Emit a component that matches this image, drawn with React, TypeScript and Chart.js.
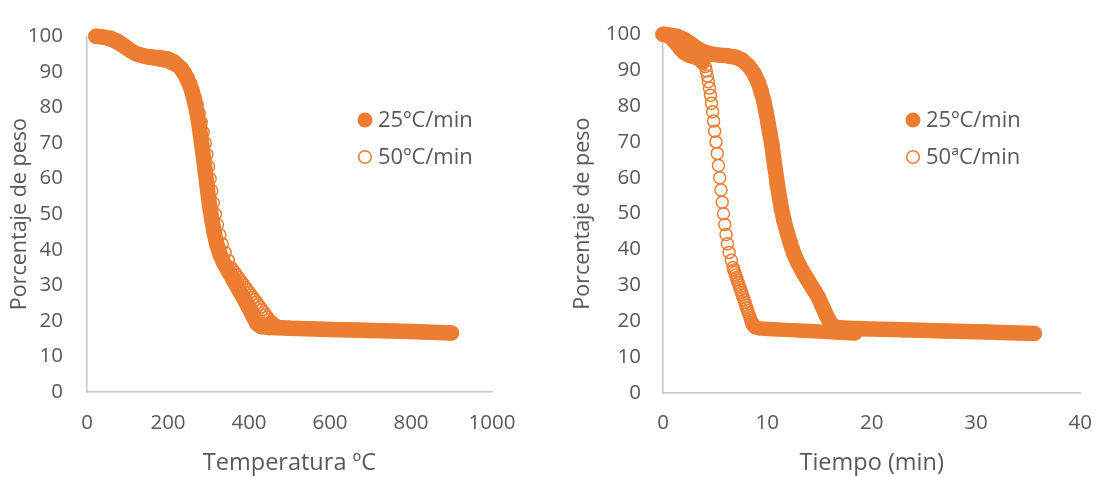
import React, { useEffect, useRef } from "react";
import { Chart, registerables } from "chart.js";

Chart.register(...registerables);

// Legend labels for each panel
const LABELS_TEMP = ["25ºC/min", "50ºC/min"];
const LABELS_TIME = ["25ºC/min", "50ªC/min"];

// Axis titles
const Y_TITLE = "Porcentaje de peso";
const X_TITLE_TEMP = "Temperatura ºC";
const X_TITLE_TIME = "Tiempo (min)";

// Axis ranges [min, max, step]
const Y_RANGE = [0, 100, 10];
const TEMP_RANGE = [0, 1000, 200];
const TIME_RANGE = [0, 40, 10];

// Run at 25 ºC/min: weight (%), temperature (ºC), time (min)
const W25 = [
  100, 99.8, 99.4, 98.6, 97.5, 96.2, 95.2, 94.5, 94.2, 94.0, 93.6, 92.8, 91.2,
  89.2, 86.8, 84.2, 81.6, 78.8, 75.6, 72.4, 69.0, 65.6, 62.0, 58.4, 54.8, 51.4,
  48.0, 44.8, 41.8, 38.8, 36.2, 33.8, 31.4, 29.0, 26.6, 24.0, 21.4, 19.2, 18.4,
  18.1, 17.9, 17.6, 17.3, 17.0, 16.6,
];
const T25 = [
  22, 40, 60, 75, 90, 105, 120, 140, 160, 180, 200, 215, 230, 242, 252, 260,
  266, 271, 276, 280, 284, 288, 292, 296, 300, 304, 309, 314, 320, 328, 338,
  350, 362, 374, 386, 398, 410, 420, 430, 450, 500, 600, 700, 800, 900,
];
const t25 = [
  0, 0.6, 1.4, 2.0, 2.6, 3.2, 3.8, 4.6, 5.4, 6.2, 7.0, 7.6, 8.2, 8.7, 9.1, 9.4,
  9.65, 9.85, 10.05, 10.25, 10.45, 10.6, 10.78, 10.95, 11.15, 11.35, 11.6,
  11.9, 12.2, 12.55, 12.95, 13.4, 13.9, 14.4, 14.9, 15.3, 15.7, 16.1, 16.5,
  17.2, 19.0, 23.0, 27.0, 31.0, 35.6,
];

// Run at 50 ºC/min: weight (%), temperature (ºC), time (min)
const W50 = [
  100, 99.6, 98.8, 97.5, 96.0, 94.8, 94.0, 93.6, 93.0, 92.0, 91.0, 89.8, 88.4,
  86.8, 85.0, 83.0, 80.8, 78.4, 75.8, 73.0, 70.0, 66.8, 63.4, 60.0, 56.6, 53.2,
  50.0, 47.0, 44.2, 41.6, 39.2, 37.0, 35.0, 34.3, 33.6, 32.9, 32.2, 31.5, 30.8,
  30.1, 29.4, 28.7, 28.0, 27.3, 26.6, 25.9, 25.2, 24.5, 23.8, 23.1, 22.4, 21.7,
  21.0, 20.3, 19.6, 18.9, 18.3, 18.0, 17.8, 17.6, 17.4, 17.2, 17.0, 16.8, 16.6,
];
const T50 = [
  25, 45, 65, 85, 105, 125, 150, 175, 200, 218, 236, 243, 250, 256, 262, 267,
  272, 277, 282, 287, 292, 296, 300, 304, 308, 312, 317, 322, 328, 334, 341,
  349, 356, 360, 365, 369, 374, 378, 383, 387, 392, 396, 401, 405, 410, 414,
  419, 423, 428, 432, 437, 441, 446, 450, 455, 462, 472, 500, 560, 620, 680,
  740, 800, 850, 900,
];
const t50 = [
  0, 0.4, 0.8, 1.2, 1.6, 2.0, 2.5, 3.0, 3.5, 3.8, 4.05, 4.15, 4.25, 4.35, 4.45,
  4.55, 4.65, 4.75, 4.85, 4.95, 5.08, 5.2, 5.32, 5.44, 5.56, 5.68, 5.8, 5.92,
  6.04, 6.18, 6.34, 6.55, 6.72, 6.8, 6.88, 6.96, 7.04, 7.12, 7.2, 7.29, 7.37,
  7.45, 7.53, 7.61, 7.69, 7.78, 7.86, 7.94, 8.02, 8.1, 8.18, 8.27, 8.35, 8.43,
  8.52, 8.65, 8.85, 9.3, 10.5, 11.8, 13.1, 14.5, 15.8, 17.0, 18.4,
];

// Open markers merge into a solid trail above / below these weights
const OPEN_SOLID_ABOVE = 92;
const OPEN_SOLID_BELOW = 19.6;

const ORANGE = "#ED7D31";
const TEXT = "#595959";
const AXIS = "#C6C6C6";
const FONT = "'Open Sans', sans-serif";
const CLEAR = "rgba(0,0,0,0)";

const insideLegend = {
  id: "insideLegend",
  afterDraw(chart: any, _args: any, opts: any) {
    const { ctx } = chart;
    ctx.save();
    ctx.font = `${opts.fontSize}px ${FONT}`;
    ctx.textBaseline = "middle";
    ctx.textAlign = "left";
    chart.data.datasets.forEach((ds: any, i: number) => {
      const cx = opts.x;
      const cy = opts.y + i * opts.gap;
      ctx.beginPath();
      if (ds.filledMarker) {
        ctx.arc(cx, cy, 7.5, 0, Math.PI * 2);
        ctx.fillStyle = ORANGE;
        ctx.fill();
      } else {
        ctx.arc(cx, cy, 6.3, 0, Math.PI * 2);
        ctx.lineWidth = 1.6;
        ctx.strokeStyle = ORANGE;
        ctx.stroke();
      }
      ctx.fillStyle = TEXT;
      ctx.fillText(ds.label, cx + opts.textGap, cy + 1);
    });
    ctx.restore();
  },
};

type PanelProps = {
  left: number;
  width: number;
  xs25: number[];
  xs50: number[];
  labels: string[];
  xTitle: string;
  xRange: number[];
  area: { left: number; top: number; right: number; bottom: number };
  yTitlePad: number;
  yTickPad: number;
  xTickPad: number;
  legend: { x: number; y: number };
};

function Panel(p: PanelProps) {
  const ref = useRef<HTMLCanvasElement | null>(null);
  const height = 477;

  useEffect(() => {
    if (!ref.current) return;
    const pts25 = W25.map((w, i) => ({ x: p.xs25[i], y: w }));
    const pts50 = W50.map((w, i) => ({ x: p.xs50[i], y: w }));
    const tickFont = { family: FONT, size: 20.5 };

    const chart = new Chart(ref.current, {
      type: "scatter",
      data: {
        datasets: [
          {
            label: p.labels[0],
            data: pts25,
            filledMarker: true,
            showLine: true,
            borderColor: ORANGE,
            borderWidth: 15.5,
            borderJoinStyle: "round",
            borderCapStyle: "round",
            pointRadius: 7.2,
            pointBorderWidth: 1,
            pointBackgroundColor: ORANGE,
            pointBorderColor: ORANGE,
            clip: false,
            order: 2,
          } as any,
          {
            label: p.labels[1],
            data: pts50,
            filledMarker: false,
            showLine: true,
            borderColor: ORANGE,
            borderWidth: 14.5,
            borderJoinStyle: "round",
            borderCapStyle: "round",
            segment: {
              borderColor: (c: any) =>
                W50[c.p1DataIndex] >= OPEN_SOLID_ABOVE ||
                W50[c.p0DataIndex] <= OPEN_SOLID_BELOW
                  ? ORANGE
                  : CLEAR,
            },
            pointRadius: 6,
            pointBorderWidth: 1.5,
            pointBackgroundColor: CLEAR,
            pointBorderColor: ORANGE,
            clip: false,
            order: 1,
          } as any,
        ],
      },
      options: {
        responsive: false,
        maintainAspectRatio: false,
        animation: false,
        devicePixelRatio: 1,
        events: [],
        layout: {
          padding: {
            left: 0,
            top: p.area.top,
            right: p.width - p.area.right,
            bottom: 0,
          },
        },
        plugins: {
          legend: { display: false },
          tooltip: { enabled: false },
          insideLegend: {
            x: p.legend.x,
            y: p.legend.y,
            gap: 37,
            textGap: 13,
            fontSize: 22,
          },
        } as any,
        scales: {
          x: {
            type: "linear",
            min: p.xRange[0],
            max: p.xRange[1],
            grid: { display: false, drawTicks: false },
            border: { display: true, color: AXIS, width: 1.5 },
            ticks: {
              stepSize: p.xRange[2],
              color: TEXT,
              font: tickFont,
              padding: p.xTickPad,
              maxRotation: 0,
              callback: (v: any) => String(v),
            },
            title: {
              display: true,
              text: p.xTitle,
              color: TEXT,
              font: { family: FONT, size: 23.5 },
              padding: { top: 0, bottom: 0 },
            },
            afterFit: (s: any) => {
              s.height = height - p.area.bottom;
            },
          },
          y: {
            type: "linear",
            min: Y_RANGE[0],
            max: Y_RANGE[1],
            grid: { display: false, drawTicks: false },
            border: { display: true, color: AXIS, width: 1.5 },
            ticks: {
              stepSize: Y_RANGE[2],
              color: TEXT,
              font: tickFont,
              padding: p.yTickPad,
              callback: (v: any) => String(v),
            },
            title: {
              display: true,
              text: Y_TITLE,
              color: TEXT,
              font: { family: FONT, size: 21.5 },
              padding: { top: p.yTitlePad, bottom: 0 },
            },
            afterFit: (s: any) => {
              s.width = p.area.left;
            },
          },
        },
      },
      plugins: [insideLegend],
    } as any);
    return () => chart.destroy();
  }, []);

  return (
    <canvas
      ref={ref}
      width={p.width}
      height={height}
      style={{
        position: "absolute",
        left: p.left,
        top: 0,
        width: p.width,
        height,
      }}
    />
  );
}

export default function App() {
  return (
    <div
      style={{
        position: "absolute",
        left: 0,
        top: 0,
        width: 1110,
        height: 477,
        background: "#fff",
      }}
    >
      <Panel
        left={0}
        width={540}
        xs25={T25}
        xs50={T50}
        labels={LABELS_TEMP}
        xTitle={X_TITLE_TEMP}
        xRange={TEMP_RANGE}
        area={{ left: 87, top: 23, right: 492, bottom: 392 }}
        yTitlePad={7}
        yTickPad={24}
        xTickPad={19}
        legend={{ x: 365, y: 120 }}
      />
      <Panel
        left={550}
        width={560}
        xs25={t25}
        xs50={t50}
        labels={LABELS_TIME}
        xTitle={X_TITLE_TIME}
        xRange={TIME_RANGE}
        area={{ left: 113, top: 27, right: 543, bottom: 393 }}
        yTitlePad={20}
        yTickPad={22}
        xTickPad={18}
        legend={{ x: 363, y: 120 }}
      />
    </div>
  );
}
